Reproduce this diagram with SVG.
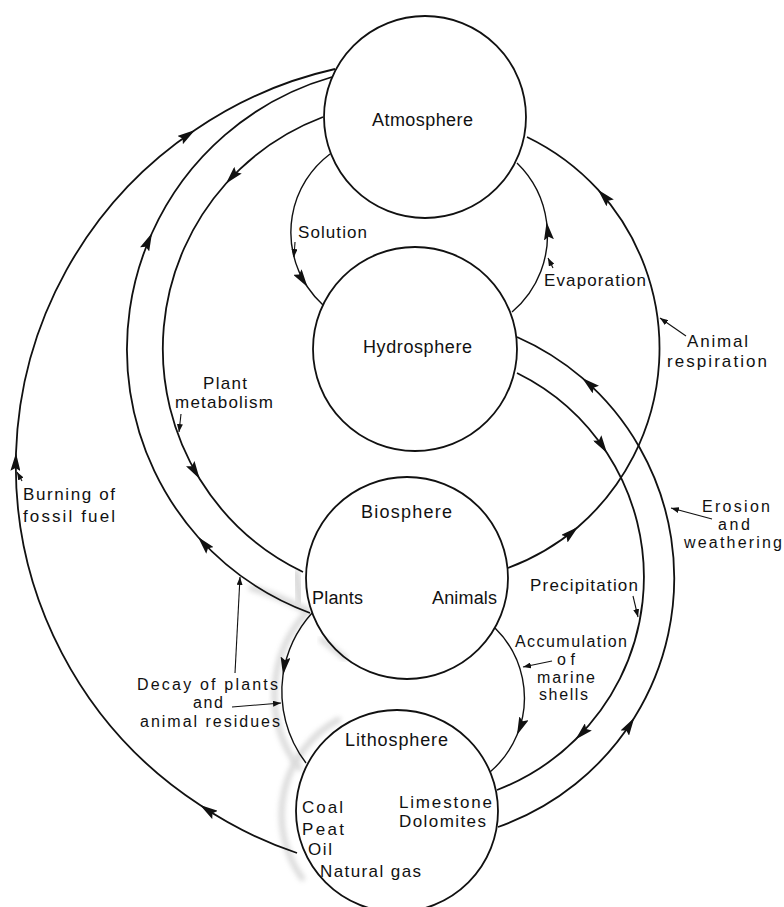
<svg xmlns="http://www.w3.org/2000/svg" width="784" height="907" viewBox="0 0 784 907">
<style>
.node{fill:none;stroke:#111;stroke-width:1.8}
.arc{fill:none;stroke:#111;stroke-width:1.8;marker-mid:url(#ah)}
.lens{fill:none;stroke:#111;stroke-width:1.4;marker-mid:url(#ah)}
.lead{fill:none;stroke:#111;stroke-width:1.1;marker-end:url(#sa)}
.smudge{fill:none;stroke:#999;stroke-linecap:round;filter:url(#blur)}
text{font-family:"Liberation Sans",Arial,sans-serif;font-size:17px;fill:#111}
.nm{font-size:18px}
.st{font-size:16px}
</style>
<defs>
<marker id="ah" viewBox="0 0 18 10" refX="18" refY="5" markerWidth="18" markerHeight="10" markerUnits="userSpaceOnUse" orient="auto"><path d="M0,0 L18,5 L0,10 L3,5 Z" fill="#111"/></marker>
<marker id="sa" viewBox="0 0 8 6" refX="8" refY="3" markerWidth="8" markerHeight="6" markerUnits="userSpaceOnUse" orient="auto"><path d="M0,0 L8,3 L0,6 Z" fill="#111"/></marker>
<filter id="blur" x="-20%" y="-20%" width="140%" height="140%"><feGaussianBlur stdDeviation="2.5"/></filter>
</defs>
<rect width="784" height="907" fill="#fff"/>
<g id="smudges" opacity="0.35">
<path class="smudge" stroke-width="7" d="M 252 588 Q 278 596 306 610"/>
<path class="smudge" stroke-width="9" d="M 296 574 L 300 600"/>
<path class="smudge" stroke-width="6" d="M 307 612 A 122 122 0 0 0 299 768"/>
<path class="smudge" stroke-width="6" d="M 338 720 A 108 108 0 0 0 302 878"/>
<path class="smudge" stroke-width="6" d="M 322 640 L 345 658"/>
</g>
<g id="connectors">
<path id="burning" class="arc" d="M 297 853 A 405 405 0 0 1 200 805 A 405 405 0 0 1 16 453 A 405 405 0 0 1 195 130 A 405 405 0 0 1 335 69"/>
<path id="plants-up" class="arc" d="M 310 613 A 283 283 0 0 1 198 537 A 283 283 0 0 1 152 233 A 283 283 0 0 1 332 77"/>
<path id="plant-metabolism" class="arc" d="M 323 117 A 248 248 0 0 0 226 183.5 A 248 248 0 0 0 199.7 479 A 248 248 0 0 0 303 572"/>
<path id="animal-respiration" class="arc" d="M 508 568 A 236 236 0 0 0 578 527 A 236 236 0 0 0 598 189.7 A 236 236 0 0 0 527 137"/>
<path id="precipitation" class="arc" d="M 517 373 A 227 227 0 0 1 607 453 A 227 227 0 0 1 575.5 739.5 A 227 227 0 0 1 497 790"/>
<path id="erosion" class="arc" d="M 498 827 A 264 264 0 0 0 634.3 717.8 A 264 264 0 0 0 582.2 377.9 A 264 264 0 0 0 517 337"/>
<path id="solution" class="lens" d="M 330 154 A 98 98 0 0 0 307.5 287 A 98 98 0 0 0 323 305"/>
<path id="evaporation" class="lens" d="M 512 312 A 100.6 100.6 0 0 0 546.6 222 A 100.6 100.6 0 0 0 517 163"/>
<path id="decay" class="lens" stroke-width="2.6" d="M 312 613 A 118 118 0 0 0 283 675 A 118 118 0 0 0 306 763"/>
<path id="accumulation" class="lens" d="M 495 628 A 97.5 97.5 0 0 1 517 735 A 97.5 97.5 0 0 1 490 772"/>
<path class="lead" d="M 295 242 L 294 257"/>
<path class="lead" d="M 553 268 L 548 258"/>
<path class="lead" d="M 686 336 L 660 318"/>
<path class="lead" d="M 712 519 L 671 508"/>
<path class="lead" d="M 633 596 L 638 617"/>
<path class="lead" d="M 552 661 L 523 667"/>
<path class="lead" d="M 181 414 L 179 432"/>
<path class="lead" d="M 22 481 L 17 472"/>
<path class="lead" d="M 235 673 L 240 577"/>
<path class="lead" d="M 232 707 L 281 703"/>
</g>
<g id="atmosphere">
<circle class="node" cx="425" cy="117" r="101"/>
<text class="nm" x="372" y="126" textLength="101">Atmosphere</text>
</g>
<g id="hydrosphere">
<circle class="node" cx="415" cy="349" r="102"/>
<text class="nm" x="363" y="353" textLength="109">Hydrosphere</text>
</g>
<g id="biosphere">
<circle class="node" cx="407" cy="578" r="101"/>
<text class="nm" x="361" y="518" textLength="91">Biosphere</text>
<text class="nm" x="312" y="604" textLength="51">Plants</text>
<text class="nm" x="432" y="604" textLength="65">Animals</text>
</g>
<g id="lithosphere">
<circle class="node" cx="397" cy="811" r="101"/>
<text class="nm" x="345" y="746" textLength="103">Lithosphere</text>
<text x="399" y="808" textLength="93">Limestone</text>
<text x="399" y="827" textLength="87">Dolomites</text>
<text x="302" y="813" textLength="41">Coal</text>
<text x="302" y="835" textLength="42">Peat</text>
<text x="308" y="855" textLength="24">Oil</text>
<text x="320" y="877" textLength="101">Natural gas</text>
</g>
<g id="labels">
<text x="298" y="238" textLength="69">Solution</text>
<text x="544" y="286" textLength="102">Evaporation</text>
<text x="687" y="347" textLength="61">Animal</text>
<text x="667" y="367" textLength="100">respiration</text>
<text class="st" x="702" y="512" textLength="68">Erosion</text>
<text class="st" x="718" y="530" textLength="32">and</text>
<text class="st" x="684" y="548" textLength="98">weathering</text>
<text x="530" y="591" textLength="108">Precipitation</text>
<text class="st" x="515" y="647" textLength="112">Accumulation</text>
<text class="st" x="557" y="665" textLength="18">of</text>
<text class="st" x="537" y="683" textLength="58">marine</text>
<text class="st" x="539" y="700" textLength="49">shells</text>
<text x="203" y="389" textLength="44">Plant</text>
<text x="175" y="408" textLength="98">metabolism</text>
<text x="23" y="500" textLength="92">Burning of</text>
<text x="23" y="522" textLength="92">fossil fuel</text>
<text class="st" x="137" y="690" textLength="141">Decay of plants</text>
<text class="st" x="193" y="708" textLength="30">and</text>
<text class="st" x="140" y="727" textLength="140">animal residues</text>
</g>
</svg>
